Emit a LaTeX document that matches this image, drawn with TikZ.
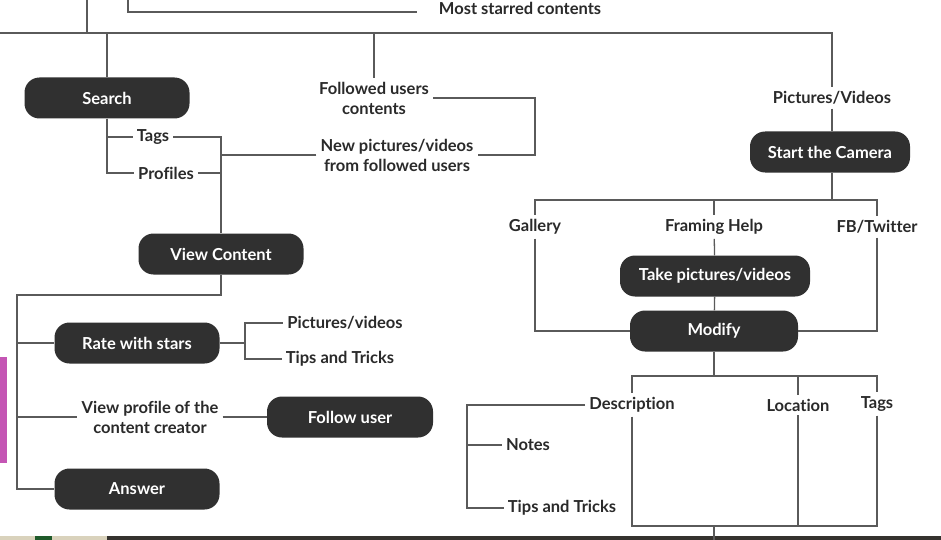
\documentclass[tikz,border=0pt]{standalone}
\usepackage{fontspec}
\setmainfont{Lato}[Ligatures={NoCommon}]
\definecolor{boxfill}{HTML}{303030}
\definecolor{linec}{HTML}{5A5A5A}
\definecolor{textc}{HTML}{2A2A2A}
\definecolor{pinkc}{HTML}{C455B4}
\definecolor{darkstrip}{HTML}{35322E}
\definecolor{beige}{HTML}{D9D2BC}
\definecolor{greenc}{HTML}{1F5A2A}
\begin{document}
\begin{tikzpicture}[x=1pt,y=-1pt,
  box/.style={fill=boxfill, rounded corners=15pt, text=white,
    font=\bfseries\fontsize{16.5}{19}\selectfont, minimum height=41pt, inner sep=0pt},
  lbl/.style={font=\bfseries\fontsize{16.5}{20}\selectfont, text=textc, align=center, inner sep=4pt},
  ln/.style={draw=linec, line width=1.3pt}]
\useasboundingbox[fill=white] (0,0) rectangle (941,540);
% photo edges
\fill[pinkc] (0,357) rectangle (7,463);
\fill[beige] (0,536) rectangle (107,540);
\fill[greenc] (35,536) rectangle (52,540);
\fill[darkstrip] (107,536) rectangle (941,540);

% nodes
\node[box, minimum width=165pt] (search) at (107,98) {Search};
\node[lbl] (tags) at (153,137) {Tags};
\node[lbl] (profiles) at (166,173) {Profiles};
\node[box, minimum width=165pt] (view) at (221,254) {View Content};
\node[lbl] (followed) at (374,98) {Followed users\\contents};
\node[lbl] (newpics) at (397,155) {New pictures/videos\\from followed users};
\node[lbl] (most) at (520,8) {Most starred contents};
\node[lbl] (picvid) at (832,98) {Pictures/Videos};
\node[box, minimum width=160pt] (camera) at (830,152) {Start the Camera};
\node[lbl] (gallery) at (535,227) {Gallery};
\node[lbl] (framing) at (714,227) {Framing Help};
\node[lbl] (fbtw) at (877,227) {FB/Twitter};
\node[box, minimum width=190pt] (take) at (715,276) {Take pictures/videos};
\node[box, minimum width=168pt] (modify) at (714,331) {Modify};
\node[lbl] (desc) at (632,405) {Description};
\node[lbl] (loc) at (798,405) {Location};
\node[lbl] (tagsb) at (877,404) {Tags};
\node[lbl] (notes) at (528,445) {Notes};
\node[lbl] (tipsb) at (562,508) {Tips and Tricks};
\node[box, minimum width=165pt] (rate) at (137,343) {Rate with stars};
\node[lbl] (picva) at (345,323) {Pictures/videos};
\node[lbl] (tipsa) at (340,359) {Tips and Tricks};
\node[lbl] (profile) at (150,417) {View profile of the\\content creator};
\node[box, minimum width=166pt] (follow) at (350,417) {Follow user};
\node[box, minimum width=165pt] (answer) at (137,489) {Answer};

% junction coordinates
\coordinate (L0) at (0,33);
\coordinate (T87) at (87,0);
\coordinate (T128) at (128,0);
\coordinate (B1) at (535,98);
\coordinate (C1) at (832,200);
\coordinate (M1) at (714,376);
\coordinate (M2) at (714,526);
\coordinate (Mb) at (714,540);
\coordinate (D1) at (467,405);
\coordinate (V1) at (221,295);
\coordinate (V2) at (17,295);
\coordinate (R1) at (245,343);

% connectors
\draw[ln] (L0) -| (picvid);
\draw[ln] (T87) -- (T87 |- L0);
\draw[ln] (T128) |- ([xshift=-18pt,yshift=-4pt]most.west);
\draw[ln] (search) -- (search |- L0);
\draw[ln] (followed) -- (followed |- L0);
\draw[ln] (search.south) |- (tags);
\draw[ln] (search.south) |- (profiles);
\draw[ln] (tags) -| (view);
\draw[ln] (profiles) -| (view);
\draw[ln] (newpics) -- (newpics -| view);
\draw[ln] (followed) -- (B1) |- (newpics);
\draw[ln] (picvid) -- (picvid |- camera.north);
\draw[ln] (camera.south -| C1) -- (C1);
\draw[ln] (C1) -| (gallery);
\draw[ln] (C1) -| (framing);
\draw[ln] (C1) -| (fbtw);
\draw[ln] (framing) -- (take);
\draw[ln] (take) -- (modify);
\draw[ln] (gallery) |- (modify);
\draw[ln] (fbtw) |- (modify);
\draw[ln] (modify) -- (M1);
\draw[ln] (M1) -| (desc);
\draw[ln] (M1) -| (loc);
\draw[ln] (M1) -| (tagsb);
\draw[ln] (desc) |- (M2);
\draw[ln] (loc) |- (M2);
\draw[ln] (tagsb) |- (M2);
\draw[ln] (M2) -- (Mb);
\draw[ln] (desc) -- (D1) |- (tipsb);
\draw[ln] (D1 |- notes) -- (notes);
\draw[ln] (view) -- (V1) -- (V2) |- (answer);
\draw[ln] (V2) |- (rate);
\draw[ln] (V2) |- (profile);
\draw[ln] (profile) -- (follow);
\draw[ln] (rate) -- (R1);
\draw[ln] (R1) |- (picva);
\draw[ln] (R1) |- (tipsa);
\end{tikzpicture}
\end{document}
